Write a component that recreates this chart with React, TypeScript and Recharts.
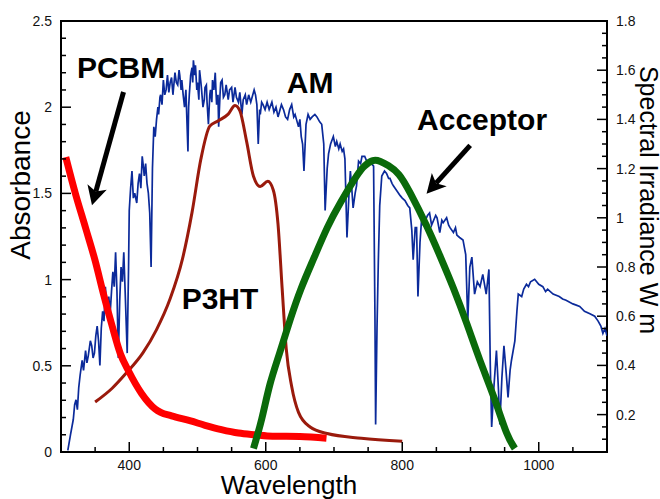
import React from 'react';
import {
  ComposedChart,
  Line,
  XAxis,
  YAxis,
  ReferenceLine,
  ReferenceDot,
  ReferenceArea,
} from 'recharts';

// [wavelength nm, spectral irradiance]
const amSpectrum: [number, number][] = [
  [310, 0.055], [314, 0.12], [318, 0.18], [320, 0.24], [322, 0.26], [324, 0.22], [326, 0.31],
  [328, 0.36], [331, 0.42], [333, 0.38], [336, 0.46], [338, 0.41], [340, 0.44], [343, 0.5],
  [345, 0.48], [347, 0.43], [349, 0.45], [351, 0.52], [353, 0.56], [355, 0.5], [357, 0.4],
  [359, 0.55], [361, 0.62], [363, 0.58], [365, 0.72], [367, 0.64], [368, 0.6], [370, 0.68],
  [372, 0.61], [374, 0.7], [376, 0.78], [378, 0.72], [380, 0.86], [382, 0.7], [384, 0.43],
  [386, 0.66], [388, 0.8], [390, 0.74], [392, 0.86], [394, 0.7], [397, 0.45], [399, 0.8],
  [400, 1.03], [402, 1.12], [404, 1.19], [406, 1.08], [408, 1.1], [411, 1.06], [413, 1.14],
  [415, 1.18], [417, 1.12], [419, 1.25], [421, 1.2], [422, 1.17], [424, 1.22], [426, 1.14],
  [428, 1.1], [430, 1.02], [432, 0.8], [434, 1.2], [436, 1.37], [438, 1.33], [440, 1.4],
  [442, 1.45], [443, 1.42], [445, 1.49], [446, 1.5], [448, 1.46], [450, 1.56], [452, 1.5],
  [454, 1.52], [456, 1.58], [458, 1.51], [460, 1.55], [462, 1.57], [464, 1.5], [467, 1.59],
  [469, 1.55], [471, 1.54], [473, 1.6], [474, 1.58], [476, 1.52], [477, 1.56], [479, 1.5],
  [481, 1.45], [483, 1.52], [486, 1.27], [487, 1.45], [488, 1.5], [490, 1.58], [492, 1.61],
  [493, 1.55], [494, 1.64], [496, 1.58], [497, 1.62], [499, 1.52], [500, 1.55], [502, 1.48],
  [503, 1.6], [505, 1.55], [506, 1.52], [508, 1.45], [510, 1.48], [511, 1.53], [513, 1.54],
  [514, 1.47], [516, 1.38], [518, 1.5], [519, 1.52], [521, 1.47], [522, 1.56], [524, 1.52],
  [526, 1.59], [527, 1.52], [528, 1.46], [530, 1.5], [531, 1.37], [533, 1.5], [534, 1.55],
  [536, 1.56], [538, 1.49], [540, 1.5], [542, 1.54], [545, 1.48], [547, 1.52], [550, 1.53],
  [552, 1.47], [555, 1.53], [557, 1.49], [560, 1.47], [562, 1.51], [565, 1.42], [567, 1.48],
  [570, 1.5], [572, 1.46], [575, 1.5], [578, 1.47], [580, 1.49], [583, 1.52], [585, 1.5],
  [587, 1.46], [589, 1.3], [591, 1.44], [592, 1.42], [594, 1.47], [596, 1.46], [599, 1.44],
  [602, 1.47], [605, 1.44], [609, 1.47], [612, 1.43], [615, 1.45], [618, 1.41], [620, 1.43],
  [623, 1.46], [626, 1.44], [629, 1.41], [632, 1.4], [635, 1.44], [638, 1.46], [641, 1.41],
  [643, 1.42], [646, 1.39], [648, 1.37], [650, 1.4], [652, 1.33], [654, 1.3], [656, 1.19],
  [659, 1.38], [662, 1.42], [665, 1.4], [668, 1.41], [672, 1.42], [675, 1.41], [679, 1.39],
  [682, 1.38], [685, 1.3], [687, 1.03], [690, 1.2], [692, 1.26], [695, 1.3], [699, 1.33],
  [702, 1.29], [704, 1.31], [707, 1.28], [709, 1.3], [712, 1.27], [714, 1.28], [716, 1.24],
  [719, 0.92], [722, 1.1], [724, 1.19], [726, 1.12], [728, 1.04], [731, 1.1], [733, 1.13],
  [736, 1.23], [739, 1.22], [741, 1.25], [745, 1.25], [748, 1.23], [750, 1.23], [755, 1.22],
  [758, 1.21], [760, 0.6], [761, 0.16], [763, 0.55], [765, 0.83], [767, 1.05], [770, 1.17],
  [774, 1.19], [777, 1.18], [780, 1.16], [782, 1.16], [785, 1.14], [787, 1.13], [792, 1.11],
  [797, 1.09], [800, 1.08], [804, 1.07], [808, 1.05], [811, 1.04], [814, 0.95], [816, 0.83],
  [819, 0.96], [821, 0.96], [823, 0.68], [826, 0.9], [828, 0.98], [831, 0.97], [834, 0.99],
  [837, 1.01], [840, 1.02], [843, 0.97], [846, 0.99], [849, 1.01], [851, 1.0], [855, 0.94],
  [858, 0.99], [860, 0.98], [865, 1.0], [868, 0.97], [870, 0.96], [875, 0.94], [878, 0.96],
  [880, 0.93], [884, 0.92], [889, 0.91], [893, 0.85], [896, 0.58], [899, 0.8], [902, 0.84],
  [906, 0.69], [910, 0.74], [914, 0.72], [918, 0.77], [923, 0.69], [927, 0.79], [929, 0.4],
  [931, 0.15], [934, 0.3], [938, 0.46], [941, 0.3], [943, 0.16], [946, 0.35], [949, 0.48],
  [952, 0.38], [955, 0.27], [958, 0.38], [960, 0.42], [965, 0.5], [968, 0.62], [970, 0.69],
  [975, 0.68], [978, 0.71], [982, 0.73], [985, 0.72], [988, 0.74], [994, 0.75], [1000, 0.73],
  [1006, 0.72], [1010, 0.7], [1013, 0.71], [1021, 0.69], [1030, 0.68], [1035, 0.67],
  [1040, 0.665], [1050, 0.65], [1055, 0.645], [1060, 0.64], [1067, 0.62], [1075, 0.61],
  [1082, 0.6], [1087, 0.58], [1091, 0.56], [1094, 0.53], [1097, 0.55], [1100, 0.52],
];

// [wavelength nm, absorbance]
const p3ht: [number, number][] = [
  [350, 0.29], [375, 0.37], [395, 0.455], [420, 0.575], [440, 0.71], [460, 0.89], [478, 1.12],
  [492, 1.39], [505, 1.7], [518, 1.89], [530, 1.92], [545, 1.96], [555, 2.01], [562, 1.98],
  [572, 1.8], [582, 1.6], [592, 1.54], [603, 1.57], [611, 1.52], [618, 1.32], [624, 0.95],
  [630, 0.6], [638, 0.38], [648, 0.23], [665, 0.145], [690, 0.107], [740, 0.08], [800, 0.062],
];

const pcbm: [number, number][] = [
  [307, 1.71], [321, 1.5], [336, 1.3], [350, 1.11], [362, 0.92], [375, 0.73], [387, 0.57],
  [399, 0.47], [418, 0.34], [438, 0.25], [446, 0.23], [462, 0.21], [490, 0.18], [511, 0.155],
  [535, 0.13], [560, 0.11], [585, 0.1], [610, 0.092], [650, 0.09], [689, 0.08],
];

const acceptor: [number, number][] = [
  [582, 0.02], [594, 0.19], [606, 0.39], [620, 0.57], [636, 0.77], [652, 0.95], [670, 1.12],
  [690, 1.3], [710, 1.45], [733, 1.6], [745, 1.66], [757, 1.69], [768, 1.685], [780, 1.66],
  [795, 1.61], [812, 1.5], [836, 1.31], [855, 1.14], [875, 0.95], [895, 0.74], [914, 0.53],
  [935, 0.31], [953, 0.11], [965, 0.02],
];

const wavelengthTicks = [400, 600, 800, 1000];
const wavelengthMinor = [350, 450, 500, 550, 650, 700, 750, 850, 900, 950, 1050];
const absorbanceTicks = [0, 0.5, 1, 1.5, 2, 2.5];
const irradianceTicks = [0.2, 0.4, 0.6, 0.8, 1, 1.2, 1.4, 1.6, 1.8];

const labels = [
  { text: 'PCBM', w: 388, a: 2.167 },
  { text: 'AM', w: 665, a: 2.08 },
  { text: 'Acceptor', w: 917, a: 1.866 },
  { text: 'P3HT', w: 533, a: 0.832 },
];
const arrows = [
  { from: [391.6, 2.088], to: [345.4, 1.431] },
  { from: [899.5, 1.779], to: [835.6, 1.498] },
];

const FONT = '"Liberation Sans", Arial, Helvetica, sans-serif';
const toPts = (arr: [number, number][]) => arr.map(([w, v]) => ({ w, v }));

const steps = (from: number, to: number, step: number) => {
  const out: number[] = [];
  for (let v = from; v <= to + 1e-9; v += step) out.push(Math.round(v * 100) / 100);
  return out;
};
const isMajor = (list: number[], v: number) => list.some((m) => Math.abs(m - v) < 1e-6);

function BottomTick({ x, y, payload }: any) {
  const major = isMajor(wavelengthTicks, payload.value);
  return (
    <g>
      <line x1={x} x2={x} y1={y} y2={y - (major ? 10 : 5)} stroke="#000" strokeWidth={1.5} />
      {major && (
        <text x={x} y={y + 18} textAnchor="middle" fontSize={14} fontFamily={FONT} fill="#111">
          {payload.value}
        </text>
      )}
    </g>
  );
}

function LeftTick({ x, y, payload }: any) {
  const major = isMajor(absorbanceTicks, payload.value);
  return (
    <g>
      <line x1={x} x2={x + (major ? 10 : 5)} y1={y} y2={y} stroke="#000" strokeWidth={1.5} />
      {major && (
        <text x={x - 9} y={y + 5} textAnchor="end" fontSize={14} fontFamily={FONT} fill="#111">
          {payload.value}
        </text>
      )}
    </g>
  );
}

function RightTick({ x, y, payload }: any) {
  const major = isMajor(irradianceTicks, payload.value);
  return (
    <g>
      <line x1={x} x2={x - (major ? 10 : 5)} y1={y} y2={y} stroke="#000" strokeWidth={1.5} />
      {major && (
        <text x={x + 9} y={y + 5} textAnchor="start" fontSize={14} fontFamily={FONT} fill="#111">
          {payload.value}
        </text>
      )}
    </g>
  );
}

function Arrow({ x1, y1, x2, y2 }: any) {
  const len = Math.hypot(x2 - x1, y2 - y1);
  const ux = (x2 - x1) / len;
  const uy = (y2 - y1) / len;
  const head = 19;
  const half = 10;
  const bx = x2 - ux * head;
  const by = y2 - uy * head;
  const nx = -uy;
  const ny = ux;
  const ix = x2 - ux * head * 0.75;
  const iy = y2 - uy * head * 0.75;
  return (
    <g>
      <line x1={x1} y1={y1} x2={ix} y2={iy} stroke="#000" strokeWidth={5} />
      <polygon
        points={`${x2},${y2} ${bx + nx * half},${by + ny * half} ${ix},${iy} ${bx - nx * half},${by - ny * half}`}
        fill="#000"
      />
    </g>
  );
}

export default function App() {
  return (
    <div style={{ position: 'relative', width: 660, height: 499, background: '#fff', fontFamily: FONT }}>
      <style>{'body{margin:0}'}</style>
      <ComposedChart width={660} height={499} margin={{ top: 21, right: 0, bottom: 0, left: 0 }}>
        <XAxis
          type="number"
          dataKey="w"
          domain={[300, 1100]}
          ticks={[...wavelengthMinor, ...wavelengthTicks].sort((a, b) => a - b)}
          interval={0}
          height={47}
          tickSize={0}
          tickMargin={0}
          tickLine={false}
          axisLine={false}
          tick={<BottomTick />}
          allowDataOverflow
        />
        <YAxis
          yAxisId="left"
          type="number"
          domain={[0, 2.5]}
          ticks={steps(0, 2.5, 0.1)}
          interval={0}
          width={61}
          tickSize={0}
          tickMargin={0}
          tickLine={false}
          axisLine={false}
          tick={<LeftTick />}
          allowDataOverflow
        />
        <YAxis
          yAxisId="right"
          orientation="right"
          type="number"
          domain={[0.048, 1.8]}
          ticks={steps(0.1, 1.8, 0.05)}
          interval={0}
          width={53}
          tickSize={0}
          tickMargin={0}
          tickLine={false}
          axisLine={false}
          tick={<RightTick />}
          allowDataOverflow
        />

        {/* AM 1.5 solar spectrum, right axis */}
        <Line
          yAxisId="right"
          data={toPts(amSpectrum)}
          dataKey="v"
          type="linear"
          stroke="#0b2a9a"
          strokeWidth={1.7}
          dot={false}
          isAnimationActive={false}
        />
        <Line
          yAxisId="left"
          data={toPts(p3ht)}
          dataKey="v"
          type="monotone"
          stroke="#9a1a0c"
          strokeWidth={3}
          dot={false}
          isAnimationActive={false}
        />
        <Line
          yAxisId="left"
          data={toPts(pcbm)}
          dataKey="v"
          type="monotone"
          stroke="#ff0000"
          strokeWidth={7}
          strokeLinejoin="round"
          dot={false}
          isAnimationActive={false}
        />
        <Line
          yAxisId="left"
          data={toPts(acceptor)}
          dataKey="v"
          type="natural"
          stroke="#0a6a0a"
          strokeWidth={7}
          dot={false}
          isAnimationActive={false}
        />

        {arrows.map((ar, i) => (
          <ReferenceLine
            key={`arrow-${i}`}
            yAxisId="left"
            segment={[
              { x: ar.from[0], y: ar.from[1] },
              { x: ar.to[0], y: ar.to[1] },
            ]}
            shape={Arrow}
            ifOverflow="visible"
          />
        ))}
        {labels.map((lb) => (
          <ReferenceDot
            key={lb.text}
            yAxisId="left"
            x={lb.w}
            y={lb.a}
            r={0}
            ifOverflow="visible"
            shape={(p: any) => (
              <text
                x={p.cx}
                y={p.cy}
                textAnchor="middle"
                fontSize={30}
                fontWeight="bold"
                fontFamily={FONT}
                fill="#000"
              >
                {lb.text}
              </text>
            )}
          />
        ))}

        {/* plot frame */}
        <ReferenceArea
          yAxisId="left"
          x1={300}
          x2={1100}
          y1={0}
          y2={2.5}
          fill="none"
          fillOpacity={0}
          stroke="#000"
          strokeWidth={2}
          ifOverflow="visible"
        />
      </ComposedChart>

      <div
        style={{
          position: 'absolute',
          left: 21,
          top: 185,
          transform: 'translate(-50%, -50%) rotate(-90deg)',
          fontSize: 28,
          lineHeight: 1,
          whiteSpace: 'nowrap',
        }}
      >
        Absorbance
      </div>
      <div
        style={{
          position: 'absolute',
          left: 289,
          top: 472,
          transform: 'translateX(-50%)',
          fontSize: 26,
          lineHeight: 1,
          whiteSpace: 'nowrap',
        }}
      >
        Wavelength
      </div>
      <div
        style={{
          position: 'absolute',
          left: 648,
          top: 200,
          transform: 'translate(-50%, -50%) rotate(90deg)',
          fontSize: 25,
          lineHeight: 1,
          whiteSpace: 'nowrap',
        }}
      >
        Spectral Irradiance W m
      </div>
    </div>
  );
}
